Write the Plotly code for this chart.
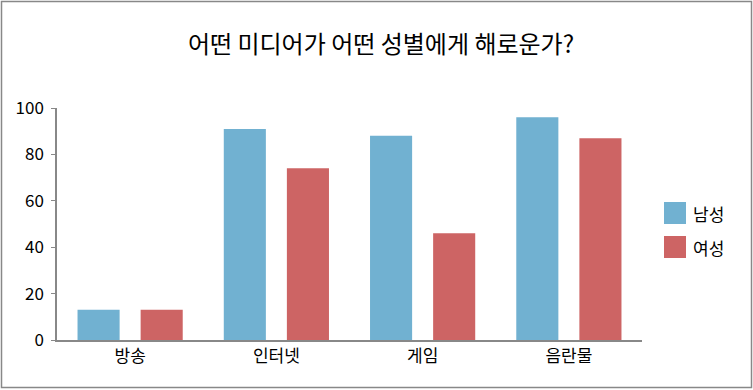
import plotly.graph_objects as go

categories = ["방송", "인터넷", "게임", "음란물"]
male = [13, 91, 88, 96]
female = [13, 74, 46, 87]
series_names = ["남성", "여성"]
colors = ["#71B1D1", "#CD6464"]
y_ticks = [0, 20, 40, 60, 80, 100]

FONT = "Noto Sans CJK KR, Malgun Gothic, sans-serif"

fig = go.Figure()
for name, vals, col in zip(series_names, [male, female], colors):
    fig.add_trace(go.Bar(x=categories, y=vals, name=name, marker=dict(color=col, line=dict(width=0)),
                         showlegend=False))

W, H = 753, 390
L, R, T, B = 57, 111, 108, 50
pw, ph = W - L - R, H - T - B

def px_to_paper(x, y):
    return (x - L) / pw, (H - B - y) / ph

shapes = []
# outer border
x0, y0 = px_to_paper(1.5, 1.5)
x1, y1 = px_to_paper(751.5, 387.5)
shapes.append(dict(type="rect", xref="paper", yref="paper", x0=x0, y0=y1, x1=x1, y1=y0,
                   line=dict(color="#888888", width=1.5), fillcolor="rgba(0,0,0,0)", layer="below"))
annotations = []
# custom legend
for i, (name, col) in enumerate(zip(series_names, colors)):
    top = 202 + i * 34
    ax0, ay0 = px_to_paper(664, top)
    ax1, ay1 = px_to_paper(686, top + 22)
    shapes.append(dict(type="rect", xref="paper", yref="paper", x0=ax0, y0=ay1, x1=ax1, y1=ay0,
                       line=dict(width=0), fillcolor=col))
    tx, ty = px_to_paper(691, top + 11)
    annotations.append(dict(xref="paper", yref="paper", x=tx, y=ty, text=name, showarrow=False,
                            xanchor="left", yanchor="middle", font=dict(size=17, color="#000000", family=FONT)))

fig.update_layout(
    width=W, height=H,
    margin=dict(l=L, r=R, t=T, b=B),
    paper_bgcolor="white", plot_bgcolor="white",
    barmode="group", bargap=0.137, bargroupgap=0.333,
    title=dict(text="어떤 미디어가 어떤 성별에게 해로운가?", x=0.506, xref="container", xanchor="center",
               y=0.885, yref="container", yanchor="middle",
               font=dict(size=24, color="#000000", family=FONT)),
    font=dict(family=FONT, color="#000000"),
    xaxis=dict(showline=True, linecolor="#888888", linewidth=1.5, ticks="", showgrid=False,
               tickfont=dict(size=17, color="#000000")),
    yaxis=dict(range=[0, 100], tickvals=y_ticks, showline=True, linecolor="#888888", linewidth=1.5,
               ticks="outside", ticklen=4, tickcolor="#888888", showgrid=False, zeroline=False,
               tickfont=dict(size=17, color="#000000"), ticklabelstandoff=4),
    shapes=shapes, annotations=annotations,
    showlegend=False,
)

fig.write_html("out.html", config={"displayModeBar": False},
               post_script="document.body.style.margin='0';document.body.style.overflow='hidden';")
